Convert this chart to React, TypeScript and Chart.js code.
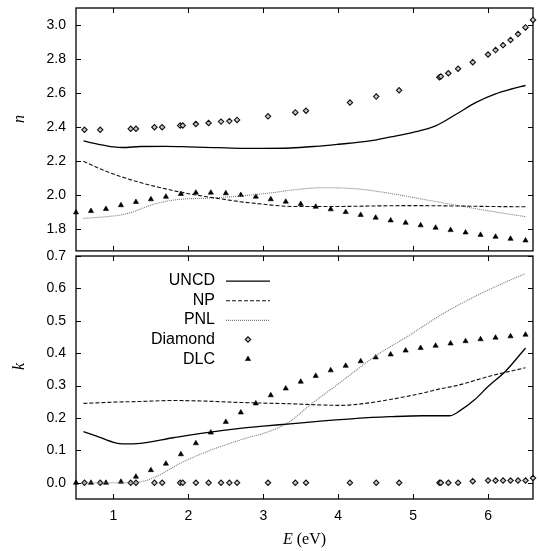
import React, { useEffect, useRef } from 'react';
import { Chart, registerables } from 'chart.js';
Chart.register(...registerables);

// ---------- axis ticks ----------
const xTicks = [1, 2, 3, 4, 5, 6];
const nTicks = [1.8, 2.0, 2.2, 2.4, 2.6, 2.8, 3.0];
const kTicks = [0, 0.1, 0.2, 0.3, 0.4, 0.5, 0.6, 0.7];

// ---------- refractive index n ----------
const uncdNE = [0.6, 0.8, 1.0, 1.12, 1.36, 1.7, 2.0, 2.4, 2.7, 3.0, 3.36, 3.7, 4.0, 4.4, 4.7, 5.0, 5.3, 5.58, 5.84, 6.1, 6.3, 6.5];
const uncdN = [2.32, 2.3, 2.285, 2.281, 2.287, 2.288, 2.285, 2.28, 2.276, 2.276, 2.278, 2.288, 2.3, 2.318, 2.343, 2.37, 2.408, 2.478, 2.546, 2.596, 2.623, 2.645];

const npNE = [0.6, 0.8, 0.91, 1.1, 1.36, 1.6, 1.8, 2.0, 2.245, 2.5, 2.69, 3.0, 3.13, 3.4, 4.0, 4.5, 5.0, 5.5, 6.0, 6.5];
const npN = [2.2, 2.16, 2.14, 2.11, 2.075, 2.048, 2.028, 2.01, 1.992, 1.975, 1.963, 1.948, 1.942, 1.935, 1.935, 1.938, 1.94, 1.938, 1.935, 1.933];

const pnlNE = [0.6, 0.91, 1.1, 1.27, 1.42, 1.58, 1.89, 2.245, 2.69, 3.13, 3.36, 3.8, 4.25, 4.69, 5.13, 5.58, 6.02, 6.5];
const pnlN = [1.865, 1.875, 1.885, 1.904, 1.93, 1.953, 1.977, 1.983, 1.996, 2.016, 2.03, 2.045, 2.038, 2.012, 1.977, 1.942, 1.908, 1.875];

const diamondE = [0.613, 0.823, 1.23, 1.3, 1.547, 1.65, 1.89, 1.925, 2.1, 2.27, 2.436, 2.547, 2.65, 3.063, 3.427, 3.57, 4.156, 4.507, 4.813, 5.35, 5.37, 5.47, 5.6, 5.796, 6.0, 6.1, 6.2, 6.3, 6.4, 6.5, 6.6];
const diamondN = [2.385, 2.385, 2.391, 2.391, 2.4, 2.4, 2.41, 2.41, 2.419, 2.425, 2.433, 2.436, 2.443, 2.464, 2.487, 2.497, 2.545, 2.58, 2.617, 2.694, 2.698, 2.717, 2.743, 2.782, 2.827, 2.853, 2.882, 2.912, 2.947, 2.986, 3.03];
const diamondK = [0, 0, 0, 0, 0, 0, 0, 0, 0, 0, 0, 0, 0, 0, 0, 0, 0, 0, 0, 0, 0, 0, 0, 0.005, 0.007, 0.007, 0.007, 0.007, 0.007, 0.007, 0.015];

const dlcE = [0.5, 0.7, 0.9, 1.1, 1.3, 1.5, 1.7, 1.9, 2.1, 2.3, 2.5, 2.7, 2.9, 3.1, 3.3, 3.5, 3.7, 3.9, 4.1, 4.3, 4.5, 4.7, 4.9, 5.1, 5.3, 5.5, 5.7, 5.9, 6.1, 6.3, 6.5];
const dlcN = [1.9, 1.908, 1.92, 1.942, 1.961, 1.977, 1.992, 2.008, 2.016, 2.016, 2.012, 2.002, 1.992, 1.977, 1.963, 1.949, 1.933, 1.918, 1.902, 1.885, 1.869, 1.853, 1.839, 1.824, 1.81, 1.796, 1.782, 1.768, 1.757, 1.745, 1.735];
const dlcK = [0, 0, 0, 0.003, 0.019, 0.039, 0.059, 0.088, 0.122, 0.155, 0.188, 0.217, 0.245, 0.27, 0.291, 0.312, 0.33, 0.347, 0.361, 0.375, 0.387, 0.396, 0.408, 0.416, 0.423, 0.43, 0.437, 0.443, 0.448, 0.452, 0.457];

// ---------- extinction coefficient k ----------
const uncdKE = [0.6, 0.8, 1.0, 1.13, 1.36, 1.8, 2.245, 2.69, 3.0, 3.36, 3.8, 4.25, 4.69, 5.13, 5.49, 5.64, 5.82, 6.0, 6.24, 6.5];
const uncdK = [0.158, 0.142, 0.125, 0.12, 0.122, 0.139, 0.155, 0.168, 0.175, 0.182, 0.191, 0.199, 0.204, 0.207, 0.207, 0.225, 0.256, 0.297, 0.346, 0.416];

const npKE = [0.6, 1.0, 1.36, 1.8, 2.245, 2.69, 3.0, 3.36, 3.8, 4.03, 4.25, 4.69, 5.13, 5.36, 5.58, 6.02, 6.5];
const npK = [0.245, 0.249, 0.251, 0.254, 0.252, 0.248, 0.246, 0.244, 0.24, 0.239, 0.242, 0.257, 0.277, 0.29, 0.3, 0.329, 0.355];

const pnlKE = [0.6, 1.0, 1.3, 1.45, 1.63, 1.89, 2.245, 2.69, 3.13, 3.36, 3.64, 4.0, 4.49, 4.96, 5.4, 5.85, 6.29, 6.5];
const pnlK = [0, 0, 0.001, 0.008, 0.026, 0.06, 0.096, 0.132, 0.163, 0.19, 0.243, 0.305, 0.39, 0.457, 0.522, 0.578, 0.625, 0.646];

const seriesLabels = ['UNCD', 'NP', 'PNL', 'Diamond', 'DLC'];

const pts = (xs: number[], ys: number[]) => xs.map((x, i) => ({ x, y: ys[i] }));

const SANS = '"Liberation Sans", Arial, sans-serif';
const SERIF = '"Liberation Serif", "Times New Roman", serif';
const TICK_LEN = 5;

function makeDatasets(uncd: any[], np: any[], pnl: any[], dia: any[], dlc: any[]) {
  const lineBase = { showLine: true, pointRadius: 0, pointHoverRadius: 0, fill: false, cubicInterpolationMode: 'monotone' as const };
  return [
    { ...lineBase, label: seriesLabels[0], data: uncd, borderColor: '#000', borderWidth: 1.3, borderDash: [] as number[] },
    { ...lineBase, label: seriesLabels[1], data: np, borderColor: '#111', borderWidth: 1.1, borderDash: [4, 2] },
    { ...lineBase, label: seriesLabels[2], data: pnl, borderColor: '#777', borderWidth: 1.1, borderDash: [1, 1] },
    { label: seriesLabels[3], data: dia, showLine: false, pointStyle: 'rectRot', pointRadius: 2.7, pointBorderWidth: 1.1, pointBorderColor: '#111', pointBackgroundColor: '#c8c8c8', clip: false },
    { label: seriesLabels[4], data: dlc, showLine: false, pointStyle: 'triangle', pointRadius: 3, pointBorderWidth: 0.6, pointBorderColor: '#000', pointBackgroundColor: '#000', clip: false },
  ];
}

function framePlugin(yTickVals: number[], extra: (chart: any) => void) {
  return {
    id: 'frame',
    beforeDatasetsDraw(chart: any) {
      const { ctx, chartArea: a, scales } = chart;
      ctx.save();
      ctx.strokeStyle = '#000';
      ctx.lineWidth = 1;
      ctx.beginPath();
      xTicks.forEach((v) => {
        const px = Math.round(scales.x.getPixelForValue(v)) + 0.5;
        ctx.moveTo(px, a.top); ctx.lineTo(px, a.top + TICK_LEN);
        ctx.moveTo(px, a.bottom); ctx.lineTo(px, a.bottom - TICK_LEN);
      });
      yTickVals.forEach((v) => {
        const py = Math.round(scales.y.getPixelForValue(v)) + 0.5;
        ctx.moveTo(a.left, py); ctx.lineTo(a.left + TICK_LEN, py);
        ctx.moveTo(a.right, py); ctx.lineTo(a.right - TICK_LEN, py);
      });
      ctx.stroke();
      ctx.lineWidth = 1.3;
      ctx.strokeRect(a.left, a.top, a.right - a.left, a.bottom - a.top);
      ctx.restore();
    },
    afterDraw(chart: any) { extra(chart); },
  };
}

function drawRotated(ctx: CanvasRenderingContext2D, text: string, x: number, y: number) {
  ctx.save();
  ctx.translate(x, y);
  ctx.rotate(-Math.PI / 2);
  ctx.font = `italic 16px ${SERIF}`;
  ctx.fillStyle = '#000';
  ctx.textAlign = 'center';
  ctx.textBaseline = 'middle';
  ctx.fillText(text, 0, 0);
  ctx.restore();
}

function baseOptions(yMin: number, yMax: number, yTickVals: number[], xHeight: number | null, padding: any) {
  return {
    animation: false as const,
    responsive: false,
    maintainAspectRatio: false,
    events: [] as any[],
    layout: { padding },
    plugins: { legend: { display: false }, tooltip: { enabled: false } },
    scales: {
      x: {
        type: 'linear' as const,
        min: 0.5,
        max: 6.6,
        display: xHeight !== null,
        grid: { display: false, drawTicks: false },
        border: { display: false },
        afterBuildTicks: (s: any) => { s.ticks = xTicks.map((v) => ({ value: v })); },
        afterFit: (s: any) => {
          if (xHeight !== null) s.height = xHeight;
          s.paddingLeft = 0; s.paddingRight = 0;
        },
        ticks: { padding: 9, color: '#000', font: { family: SANS, size: 14 }, maxRotation: 0, callback: (v: any) => String(v) },
      },
      y: {
        type: 'linear' as const,
        min: yMin,
        max: yMax,
        grid: { display: false, drawTicks: false },
        border: { display: false },
        afterBuildTicks: (s: any) => { s.ticks = yTickVals.map((v) => ({ value: v })); },
        afterFit: (s: any) => { s.width = 76; s.paddingTop = 0; s.paddingBottom = 0; },
        ticks: { padding: 10, color: '#000', font: { family: SANS, size: 14 }, callback: (v: any) => Number(v).toFixed(1) },
      },
    },
  };
}

export default function App() {
  const topRef = useRef<HTMLCanvasElement>(null);
  const botRef = useRef<HTMLCanvasElement>(null);

  useEffect(() => {
    const topChart = new Chart(topRef.current as HTMLCanvasElement, {
      type: 'scatter',
      data: {
        datasets: makeDatasets(
          pts(uncdNE, uncdN), pts(npNE, npN), pts(pnlNE, pnlN),
          pts(diamondE, diamondN), pts(dlcE, dlcN)
        ) as any,
      },
      options: baseOptions(1.674, 3.1, nTicks, null, { top: 8, left: 0, right: 7, bottom: 5 }) as any,
      plugins: [framePlugin(nTicks, (chart: any) => {
        const a = chart.chartArea;
        drawRotated(chart.ctx, 'n', 20, a.top + 111);
      })],
    });

    const botChart = new Chart(botRef.current as HTMLCanvasElement, {
      type: 'scatter',
      data: {
        datasets: makeDatasets(
          pts(uncdKE, uncdK), pts(npKE, npK), pts(pnlKE, pnlK),
          pts(diamondE, diamondK), pts(dlcE, dlcK)
        ) as any,
      },
      options: baseOptions(-0.05, 0.7, kTicks, 52, { top: 16, left: 0, right: 7, bottom: 0 }) as any,
      plugins: [framePlugin(kTicks, (chart: any) => {
        const ctx: CanvasRenderingContext2D = chart.ctx;
        const a = chart.chartArea;
        drawRotated(ctx, 'k', 20, a.top + 110.5);

        // x-axis title: italic E followed by " (eV)"
        ctx.save();
        ctx.fillStyle = '#000';
        ctx.textBaseline = 'middle';
        ctx.textAlign = 'left';
        const fItal = `italic 16px ${SERIF}`;
        const fReg = `16px ${SERIF}`;
        ctx.font = fItal; const w1 = ctx.measureText('E').width;
        ctx.font = fReg; const w2 = ctx.measureText(' (eV)').width;
        const cx = (a.left + a.right) / 2;
        const x0 = cx - (w1 + w2) / 2;
        const ty = a.bottom + 41;
        ctx.font = fItal; ctx.fillText('E', x0, ty);
        ctx.font = fReg; ctx.fillText(' (eV)', x0 + w1, ty);
        ctx.restore();

        // legend inside the k panel
        ctx.save();
        const textRight = a.left + 139;
        const sx0 = a.left + 150, sx1 = a.left + 194, mx = a.left + 172;
        chart.data.datasets.forEach((ds: any, i: number) => {
          const y = a.top + 24.7 + i * 19.6;
          ctx.font = `16px ${SANS}`;
          ctx.fillStyle = '#000';
          ctx.textAlign = 'right';
          ctx.textBaseline = 'middle';
          ctx.fillText(ds.label, textRight, y);
          if (ds.showLine) {
            ctx.save();
            ctx.strokeStyle = ds.borderColor;
            ctx.lineWidth = ds.borderWidth;
            ctx.setLineDash(ds.borderDash || []);
            ctx.beginPath(); ctx.moveTo(sx0, y + 0.5); ctx.lineTo(sx1, y + 0.5); ctx.stroke();
            ctx.restore();
          } else {
            ctx.save();
            ctx.strokeStyle = ds.pointBorderColor;
            ctx.fillStyle = ds.pointBackgroundColor;
            ctx.lineWidth = ds.pointBorderWidth;
            ctx.beginPath();
            const r = ds.pointRadius;
            if (ds.pointStyle === 'rectRot') {
              ctx.moveTo(mx - r, y); ctx.lineTo(mx, y - r); ctx.lineTo(mx + r, y); ctx.lineTo(mx, y + r); ctx.closePath();
            } else {
              const hw = r * Math.sin(Math.PI / 3);
              ctx.moveTo(mx - hw, y + r / 2); ctx.lineTo(mx, y - r); ctx.lineTo(mx + hw, y + r / 2); ctx.closePath();
            }
            ctx.fill(); ctx.stroke();
            ctx.restore();
          }
        });
        ctx.restore();
      })],
    });

    return () => { topChart.destroy(); botChart.destroy(); };
  }, []);

  return (
    <div style={{ position: 'fixed', left: 0, top: 0, width: 540, height: 551, background: '#fff' }}>
      <canvas ref={topRef} width={540} height={256} style={{ position: 'absolute', left: 0, top: 0, width: 540, height: 256 }} />
      <canvas ref={botRef} width={540} height={311} style={{ position: 'absolute', left: 0, top: 240, width: 540, height: 311 }} />
    </div>
  );
}
